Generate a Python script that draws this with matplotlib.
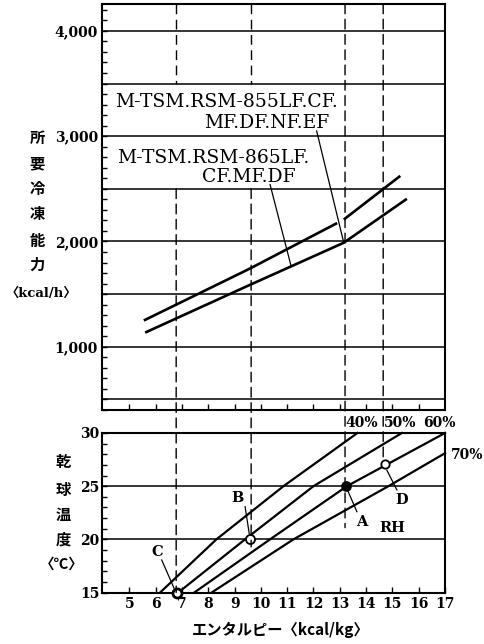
import matplotlib
matplotlib.use('Agg')
import matplotlib.pyplot as plt
from matplotlib.patches import ConnectionPatch
from matplotlib.ticker import MultipleLocator, FixedLocator

# ---------------- data ----------------
# top panel: required refrigerating capacity (kcal/h) vs enthalpy (kcal/kg)
upper_h = [5.55, 9.6, 12.9]
upper_k = [1250, 1745, 2175]
upper2_h = [13.15, 15.3]
upper2_k = [2208, 2623]
lower_h = [5.6, 9.6, 13.15, 15.55]
lower_k = [1135, 1590, 1988, 2405]

cap_ticks = [1000, 2000, 3000, 4000]
cap_tick_labels = ['1,000', '2,000', '3,000', '4,000']
cap_grid = [500, 1000, 1500, 2000, 2500, 3000, 3500, 4000]

label_855 = ['M-TSM.RSM-855LF.CF.', 'MF.DF.NF.EF']
label_865 = ['M-TSM.RSM-865LF.', 'CF.MF.DF']

# bottom panel: dry-bulb temperature vs enthalpy for relative humidity lines
rh_labels = ['40%', '50%', '60%', '70%']
rh40_t = [15, 20, 25, 30]
rh40_h = [6.17, 8.31, 10.86, 13.67]
rh50_t = [15, 20, 25, 30]
rh50_h = [6.86, 9.40, 12.0, 15.36]
rh60_t = [15, 20, 25, 30]
rh60_h = [7.47, 10.35, 13.27, 17.0]
rh70_t = [15, 20, 25, 28.1]
rh70_h = [8.13, 11.24, 14.85, 17.0]

point_names = ['A', 'B', 'C', 'D']
point_h = [13.25, 9.6, 6.8, 14.7]
point_t = [25.0, 20.0, 15.0, 27.05]

guide_h = [6.78, 9.63, 13.2, 14.65]
guide_end_t = [15.0, 19.3, 21.1, 27.3]
guide_broken = [True, True, False, False]

temp_ticks = [15, 20, 25, 30]
enth_ticks = list(range(5, 18))

# ---------------- figure ----------------
W, H = 485, 644
fig = plt.figure(figsize=(W / 100, H / 100), dpi=100)
fig.patch.set_facecolor('white')

SERIF = 'DejaVu Serif'
JP = ['DejaVu Serif', 'Noto Sans CJK JP']

def px(x0, y0, x1, y1):
    return [x0 / W, 1 - y1 / H, (x1 - x0) / W, (y1 - y0) / H]

ax1 = fig.add_axes(px(102, 4, 445, 410))
ax2 = fig.add_axes(px(102, 433, 445, 592.5))

XMIN, XMAX = 3.96, 17.0
YTOP = 4255
for ax in (ax1, ax2):
    ax.set_xlim(XMIN, XMAX)
    for s in ax.spines.values():
        s.set_linewidth(1.5)
        s.set_color('black')

# ---- top panel ----
ax1.set_ylim(400, YTOP)
for g in cap_grid:
    ax1.axhline(g, color='black', lw=1.1, zorder=1)
ax1.plot(upper_h, upper_k, color='black', lw=1.9, solid_capstyle='butt', zorder=3)
ax1.plot(upper2_h, upper2_k, color='black', lw=1.9, solid_capstyle='butt', zorder=3)
ax1.plot(lower_h, lower_k, color='black', lw=1.9, solid_capstyle='butt', zorder=3)

ax1.yaxis.set_major_locator(FixedLocator(cap_ticks))
ax1.set_yticklabels(cap_tick_labels, fontfamily=SERIF, fontweight='bold', fontsize=10)
ax1.yaxis.set_minor_locator(MultipleLocator(100))
ax1.tick_params(axis='y', which='both', direction='in', length=3.5, width=1.0, pad=3)
ax1.xaxis.set_major_locator(FixedLocator(enth_ticks[:-1]))
ax1.tick_params(axis='x', which='both', direction='in', length=4, width=1.0, labelbottom=False)

# model labels
ax1.text(4.456, 3279, label_855[0], fontfamily=SERIF, fontsize=13.5, ha='left', va='baseline')
ax1.text(12.59, 3079, label_855[1], fontfamily=SERIF, fontsize=13.5, ha='right', va='baseline')
ax1.text(4.53, 2747, label_865[0], fontfamily=SERIF, fontsize=13.5, ha='left', va='baseline')
ax1.text(11.33, 2566, label_865[1], fontfamily=SERIF, fontsize=13.5, ha='right', va='baseline')
ax1.plot([12.12, 13.15], [3050, 1990], color='black', lw=0.9, zorder=2)
ax1.plot([10.35, 11.15], [2540, 1765], color='black', lw=0.9, zorder=2)

# ---- bottom panel ----
ax2.set_ylim(15, 30)
for g in (20, 25):
    ax2.axhline(g, color='black', lw=1.1, zorder=1)
for hs, ts in ((rh40_h, rh40_t), (rh50_h, rh50_t), (rh60_h, rh60_t), (rh70_h, rh70_t)):
    ax2.plot(hs, ts, color='black', lw=1.6, zorder=3, clip_on=False)

ax2.yaxis.set_major_locator(FixedLocator(temp_ticks))
ax2.set_yticklabels([str(t) for t in temp_ticks], fontfamily=SERIF, fontweight='bold', fontsize=10)
ax2.yaxis.set_minor_locator(MultipleLocator(1))
ax2.tick_params(axis='y', which='both', direction='in', length=3.5, width=1.0, pad=2)
ax2.xaxis.set_major_locator(FixedLocator(enth_ticks))
ax2.set_xticklabels([str(e) for e in enth_ticks], fontfamily=SERIF, fontweight='bold', fontsize=10)
ax2.tick_params(axis='x', which='both', direction='in', length=4, width=1.0, pad=3)

# points
styles = {'A': dict(mfc='black', ms=6.5, mew=1.2),
          'B': dict(mfc='white', ms=6.5, mew=1.3),
          'C': dict(mfc='white', ms=6.5, mew=2.0),
          'D': dict(mfc='white', ms=6.0, mew=1.3)}
for n, h, t in zip(point_names, point_h, point_t):
    ax2.plot([h], [t], marker='o', mec='black', color='black', zorder=6, clip_on=False,
             linestyle='none', **styles[n])

# point labels and leaders
lab_kw = dict(fontfamily=SERIF, fontweight='bold', fontsize=10.5, ha='center', va='center')
ax2.text(13.85, 21.63, 'A', **lab_kw)
ax2.text(9.10, 23.89, 'B', **lab_kw)
ax2.text(6.05, 18.81, 'C', **lab_kw)
ax2.text(15.37, 23.70, 'D', **lab_kw)
ax2.text(14.99, 21.07, 'RH', **lab_kw)
ax2.plot([13.3, 13.65], [24.6, 22.6], color='black', lw=0.9, zorder=4)
ax2.plot([9.4, 9.56], [23.07, 20.5], color='black', lw=0.9, zorder=4)
ax2.plot([6.23, 6.7], [18.06, 15.4], color='black', lw=0.9, zorder=4)
ax2.plot([14.79, 15.17], [26.5, 24.65], color='black', lw=0.9, zorder=4)

# RH labels
for lab, (h, t) in zip(rh_labels, ((13.85, 30.95), (15.29, 30.95), (16.78, 30.95), (17.84, 27.94))):
    ax2.text(h, t, lab, fontfamily=SERIF, fontweight='bold', fontsize=10,
             ha='center', va='center', clip_on=False)

# dashed guide lines spanning both panels
DASH = (0, (7, 4))
for h, te, broken in zip(guide_h, guide_end_t, guide_broken):
    start = 2500 if broken else YTOP
    if broken:
        ax1.plot([h, h], [YTOP, 3500], color='black', lw=1.0, linestyle=DASH, zorder=2)
    con = ConnectionPatch(xyA=(h, start), coordsA=ax1.transData,
                          xyB=(h, te), coordsB=ax2.transData,
                          color='black', lw=1.0, linestyle=DASH, zorder=2)
    fig.add_artist(con)

# axis titles (vertical Japanese)
def ftext(x, y, s, **kw):
    fig.text(x / W, 1 - y / H, s, ha='center', va='center', **kw)

for ch, y in zip('所要冷凍能力', [138, 163, 189, 214, 241, 265]):
    ftext(37, y, ch, fontfamily=['Noto Sans CJK JP'], fontweight='bold', fontsize=11)
ftext(41, 293, '〈kcal/h〉', fontfamily=JP, fontweight='bold', fontsize=9.5)

for ch, y in zip('乾球温度', [462, 490, 515, 540]):
    ftext(63, y, ch, fontfamily=['Noto Sans CJK JP'], fontweight='bold', fontsize=11)
ftext(62, 564, '〈℃〉', fontfamily=['Noto Sans CJK JP'], fontweight='bold', fontsize=10.5)

ftext(281, 630, 'エンタルピー〈kcal/kg〉', fontfamily=['Noto Sans CJK JP', 'DejaVu Serif'],
      fontweight='bold', fontsize=11)

fig.savefig('out.png', dpi=100, facecolor='white')
